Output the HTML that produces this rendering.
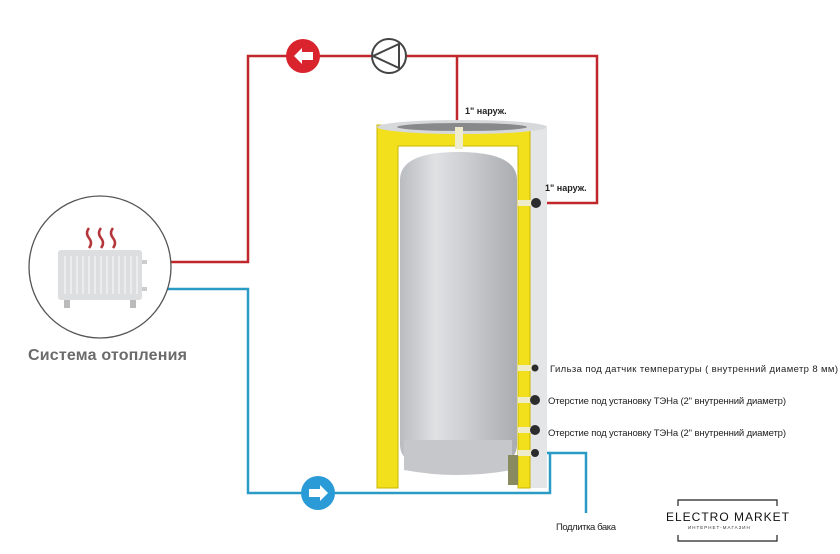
<!DOCTYPE html>
<html><head><meta charset="utf-8"><style>
html,body{margin:0;padding:0;background:#fff;}
svg{display:block;}
text{font-family:"Liberation Sans",sans-serif;}
</style></head><body>
<svg width="840" height="554" viewBox="0 0 840 554" xmlns="http://www.w3.org/2000/svg">
<defs>
<linearGradient id="cyl" x1="0" x2="1" y1="0" y2="0">
<stop offset="0" stop-color="#b9bcc0"/><stop offset="0.3" stop-color="#dfe1e3"/><stop offset="0.6" stop-color="#c9cbce"/><stop offset="1" stop-color="#a9acb0"/>
</linearGradient>
</defs>
<g stroke="#c0272d" stroke-width="2.5" fill="none">
<polyline points="145,262 248,262 248,56 597,56 597,203 540,203"/>
<line x1="457" y1="56" x2="457" y2="128"/>
</g>
<g stroke="#2a9bc4" stroke-width="2.5" fill="none">
<polyline points="145,289 248,289 248,493 550,493 550,453 586,453 586,513"/>
<line x1="538" y1="453" x2="550" y2="453"/>
</g>
<rect x="527" y="128" width="20" height="360" fill="#e4e5e6"/>
<path d="M377,125 L530,125 L530,488 L518,488 L518,146 L398,146 L398,488 L377,488 Z" fill="#f3e01c" stroke="#c9b400" stroke-width="1"/>
<ellipse cx="462" cy="127" rx="85" ry="7" fill="#d6d8da"/>
<ellipse cx="462" cy="127" rx="65" ry="4" fill="#3a3a3a" opacity="0.5"/>
<rect x="455" y="127" width="8" height="22" fill="#efeccc"/>
<path d="M400,180 Q400,152 458,152 Q517,152 517,180 L517,445 Q517,470 458,474 Q400,470 400,445 Z" fill="url(#cyl)"/>
<path d="M404,440 L404,470 Q458,480 512,470 L512,440 Z" fill="#c5c7ca"/>
<rect x="508" y="455" width="10" height="30" fill="#8a8a60"/>
<g fill="#efeccc">
<rect x="518" y="200" width="16" height="6"/><rect x="518" y="365" width="16" height="6"/>
<rect x="518" y="397" width="16" height="6"/><rect x="518" y="427" width="16" height="6"/>
<rect x="518" y="450" width="16" height="6"/>
</g>
<g fill="#2c2c2c">
<circle cx="536" cy="203" r="5"/><circle cx="535" cy="368" r="3.5"/><circle cx="535" cy="400" r="5"/>
<circle cx="535" cy="430" r="5"/><circle cx="535" cy="453" r="4"/>
</g>
<circle cx="303" cy="56" r="17" fill="#d9232d"/>
<path d="M294,56 L302,48 L302,52 L313,52 L313,60 L302,60 L302,64 Z" fill="#fff"/>
<circle cx="389" cy="56" r="17" fill="#fff" stroke="#444" stroke-width="2"/>
<path d="M373,56 L399,44 L399,68 Z" fill="none" stroke="#444" stroke-width="2"/>
<circle cx="318" cy="493" r="17" fill="#2a9bd6"/>
<path d="M328,493 L320,485 L320,489 L309,489 L309,497 L320,497 L320,501 Z" fill="#fff"/>
<circle cx="100" cy="267" r="71" fill="#fff" stroke="#555" stroke-width="1.3"/>
<g stroke="#b5363a" stroke-width="2.5" fill="none">
<path d="M89,228 q-4,5 0,10 q4,5 0,10"/><path d="M101,228 q-4,5 0,10 q4,5 0,10"/><path d="M113,228 q-4,5 0,10 q4,5 0,10"/>
</g>
<rect x="58" y="250" width="84" height="50" rx="3" fill="#dcdee0"/>
<g stroke="#f2f2f2" stroke-width="1.5">
<line x1="65" y1="256" x2="65" y2="294"/><line x1="71" y1="256" x2="71" y2="294"/><line x1="77" y1="256" x2="77" y2="294"/><line x1="83" y1="256" x2="83" y2="294"/><line x1="89" y1="256" x2="89" y2="294"/><line x1="95" y1="256" x2="95" y2="294"/><line x1="101" y1="256" x2="101" y2="294"/><line x1="107" y1="256" x2="107" y2="294"/><line x1="113" y1="256" x2="113" y2="294"/><line x1="119" y1="256" x2="119" y2="294"/><line x1="125" y1="256" x2="125" y2="294"/><line x1="131" y1="256" x2="131" y2="294"/><line x1="137" y1="256" x2="137" y2="294"/>
</g>
<rect x="64" y="300" width="6" height="8" fill="#bbb"/><rect x="130" y="300" width="6" height="8" fill="#bbb"/>
<rect x="142" y="260" width="5" height="4" fill="#ccc"/><rect x="142" y="287" width="5" height="4" fill="#ccc"/>
<text x="28" y="360" font-size="16" font-weight="bold" fill="#6b6b6b" textLength="159">Система отопления</text>
<g font-size="9" font-weight="bold" fill="#222">
<text x="465" y="114">1" наруж.</text>
<text x="545" y="191">1" наруж.</text>
</g>
<g font-size="9.5" fill="#222">
<text x="550" y="372" textLength="288">Гильза под датчик температуры ( внутренний диаметр 8 мм)</text>
<text x="548" y="404" textLength="238">Отерстие под установку ТЭНа (2'' внутренний диаметр)</text>
<text x="548" y="436" textLength="238">Отерстие под установку ТЭНа (2'' внутренний диаметр)</text>
<text x="556" y="530" textLength="60">Подлитка бака</text>
</g>
<g stroke="#222" stroke-width="1.2" fill="none">
<polyline points="678,506 678,500 777,500 777,506"/>
<polyline points="678,535 678,541 777,541 777,535"/>
</g>
<text x="666" y="521" font-size="12" fill="#111" textLength="123">ELECTRO MARKET</text>
<text x="688" y="529" font-size="4.5" letter-spacing="1" fill="#333">ИНТЕРНЕТ-МАГАЗИН</text>
</svg>
</body></html>
